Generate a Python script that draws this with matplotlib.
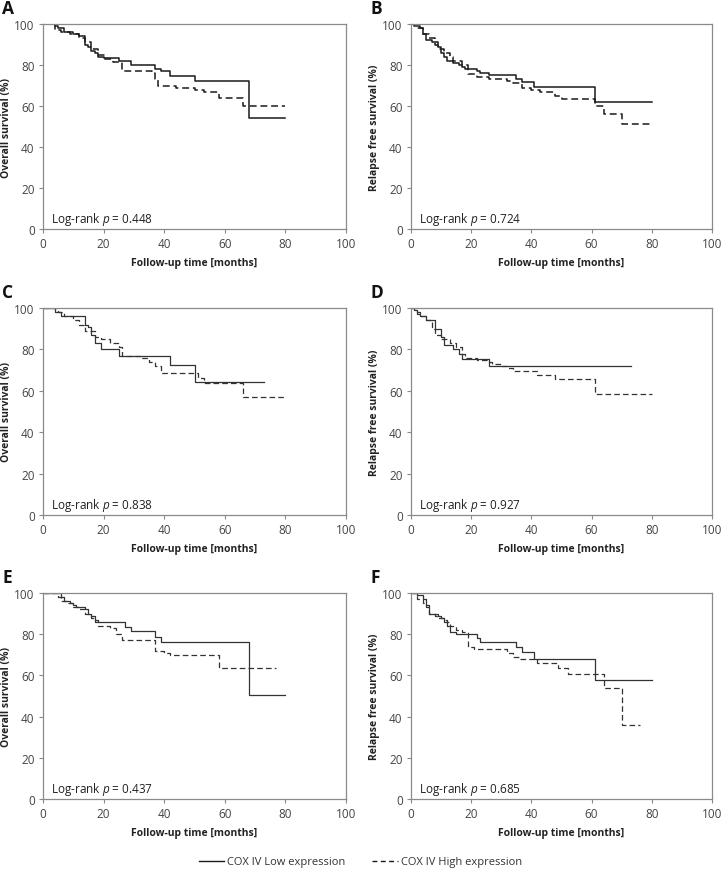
import numpy as np
import matplotlib.pyplot as plt
from matplotlib.lines import Line2D

plt.rcParams['font.family'] = ['Open Sans', 'DejaVu Sans']
plt.rcParams['mathtext.fontset'] = 'custom'
plt.rcParams['mathtext.it'] = 'Open Sans:italic'
plt.rcParams['mathtext.rm'] = 'Open Sans'

# step curves: times (months) and survival (%), last point = end of follow-up
a_low_t = [0, 4, 5, 7, 10, 12, 14, 15, 16, 17, 18, 20, 25, 26, 29, 37, 39, 42, 50, 68, 80]
a_low_s = [100, 99, 98, 96, 95, 94, 90, 89, 87, 86, 84, 83.5, 82, 82, 80, 78, 77, 74.5, 72, 54, 54]
a_high_t = [0, 4, 6, 9, 12, 14, 16, 18, 20, 23, 26, 36, 37, 38, 44, 50, 53, 58, 66, 80]
a_high_s = [100, 97, 96, 95, 93, 91, 88, 85, 83, 81.5, 77, 76, 73, 70, 69, 68, 66.7, 64, 60, 60]

b_low_t = [0, 1, 3, 4, 5, 7, 9, 10, 11, 12, 14, 16, 17, 18, 22, 23, 26, 35, 37, 41, 61, 80]
b_low_s = [100, 99, 98, 95, 92, 91, 89, 86, 84, 82, 81, 80, 79, 78, 77, 76, 75, 73.4, 71.5, 69.4, 62, 62]
b_high_t = [0, 2, 4, 6, 8, 9, 11, 13, 14, 17, 19, 22, 26, 32, 34, 37, 40, 43, 48, 50, 61, 64, 70, 80]
b_high_s = [100, 98, 95, 93, 90, 88, 86, 84, 82, 80, 75.5, 74, 73, 72, 71, 69, 68, 67, 65, 63.2, 60, 56, 51, 51]

c_low_t = [0, 4, 6, 14, 15, 16, 17, 19, 25, 42, 50, 73]
c_low_s = [100, 98, 96, 92, 91, 87, 83, 80, 77, 72.3, 64.3, 64.3]
c_high_t = [0, 5, 7, 10, 12, 14, 17, 19, 22, 25, 26, 32, 35, 37, 39, 51, 53, 66, 80]
c_high_s = [100, 98, 96, 94, 92, 89, 86, 85, 83, 81, 77, 76, 74, 72, 68.6, 66, 64, 57, 57]

d_low_t = [0, 1, 2, 3, 5, 8, 10, 11, 14, 16, 17, 26, 73]
d_low_s = [100, 99, 97, 96, 94, 90, 86, 82, 80, 78, 75.4, 72, 72]
d_high_t = [0, 2, 3, 5, 7, 8, 10, 13, 15, 17, 18, 22, 26, 27, 30, 32, 34, 42, 48, 61, 80]
d_high_s = [100, 98, 96, 94, 90, 87, 85, 83, 81, 78, 76, 75, 74, 73, 72, 71, 69.4, 67.6, 65.7, 58.3, 58.3]

e_low_t = [0, 6, 7, 9, 10, 11, 14, 15, 16, 17, 18, 27, 29, 37, 39, 68, 80]
e_low_s = [100, 98, 96, 95, 94, 93, 92, 90, 89, 87, 86, 83.5, 81.4, 78.6, 76.3, 50.7, 50.7]
e_high_t = [0, 5, 6, 8, 10, 12, 14, 16, 17, 18, 22, 24, 26, 37, 40, 42, 58, 77]
e_high_s = [100, 98, 96, 95, 93, 92, 90, 88, 86, 84, 83, 80, 77, 72, 71, 69.7, 63.7, 63.7]

f_low_t = [0, 2, 4, 5, 6, 9, 10, 11, 12, 13, 15, 22, 23, 35, 37, 41, 61, 80]
f_low_s = [100, 99, 97, 94, 90, 89, 88, 86, 84, 81.3, 80, 78, 76.4, 74, 71.5, 67.8, 58, 58]
f_high_t = [0, 2, 4, 5, 6, 8, 9, 11, 12, 13, 15, 17, 19, 21, 32, 34, 36, 42, 49, 52, 64, 70, 76]
f_high_s = [100, 97, 95, 93, 90, 89, 88, 87, 86, 84, 82, 81, 74, 72.7, 71, 69, 68, 66.2, 63.4, 60.5, 54, 36, 36]

panels = ['A', 'B', 'C', 'D', 'E', 'F']
pvalues = ['0.448', '0.724', '0.838', '0.927', '0.437', '0.685']
ylabels = ['Overall survival (%)', 'Relapse free survival (%)'] * 3
curves = [(a_low_t, a_low_s, a_high_t, a_high_s),
          (b_low_t, b_low_s, b_high_t, b_high_s),
          (c_low_t, c_low_s, c_high_t, c_high_s),
          (d_low_t, d_low_s, d_high_t, d_high_s),
          (e_low_t, e_low_s, e_high_t, e_high_s),
          (f_low_t, f_low_s, f_high_t, f_high_s)]

W, H = 721, 870
fig = plt.figure(figsize=(W / 100, H / 100), dpi=100)

cols = [(43, 346), (411, 712)]
rows = [(25, 230), (309, 516), (594, 800)]
dash = (0, (4.5, 2.5))

for i, name in enumerate(panels):
    x0, x1 = cols[i % 2]
    y0, y1 = rows[i // 2]
    ax = fig.add_axes([x0 / W, 1 - y1 / H, (x1 - x0) / W, (y1 - y0) / H])
    lt, ls, ht, hs = curves[i]
    lw = 1.1 if i < 2 else 0.9
    col = '#1a1a1a' if i < 2 else '#333333'
    ax.step(lt, ls, where='post', color=col, lw=lw)
    ax.step(ht, hs, where='post', color=col, lw=lw, linestyle=dash)
    ax.set_xlim(0, 100)
    ax.set_ylim(0, 100)
    ax.set_xticks(range(0, 101, 20))
    ax.set_yticks(range(0, 101, 20))
    for sp in ax.spines.values():
        sp.set_color('#8a8a8a')
        sp.set_linewidth(0.9)
    ax.tick_params(direction='out', length=3, width=0.8, color='#8a8a8a',
                   labelsize=8.5, labelcolor='#444444', pad=3)
    ax.set_xlabel('Follow-up time [months]', fontsize=7.5, fontweight='bold',
                  color='#222222', labelpad=5)
    ax.set_ylabel(ylabels[i], fontsize=7.5, fontweight='bold', color='#222222',
                  labelpad=2)
    ax.text(2.8, 5, 'Log-rank $\\it{p}$ = ' + pvalues[i], fontsize=8.5,
            color='#222222', va='center')
    fig.text((x0 - 41) / W, 1 - (y0 - 25) / H, name, fontsize=12.5,
             fontweight='bold', color='#111111', va='top', ha='left')

handles = [Line2D([], [], color='#1a1a1a', lw=1.0),
           Line2D([], [], color='#1a1a1a', lw=1.0, linestyle=(0, (3.5, 2.5)))]
fig.legend(handles, ['COX IV Low expression', 'COX IV High expression'],
           loc='center', bbox_to_anchor=(0.5, 1 - 863 / H), ncol=2,
           frameon=False, fontsize=8, handlelength=2.3, columnspacing=2.4,
           handletextpad=0.3, labelcolor='#333333')

fig.savefig('out.png', dpi=100)
